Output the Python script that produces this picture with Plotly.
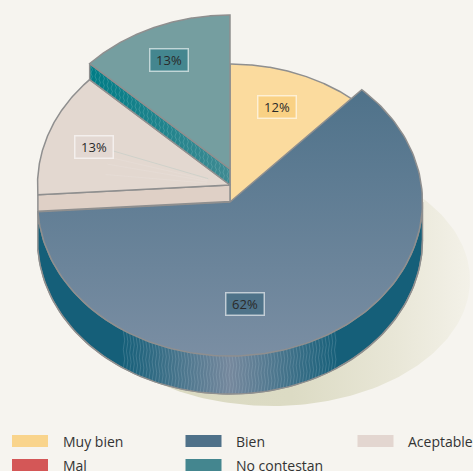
import numpy as np
import plotly.graph_objects as go

categories = ["Muy bien", "Bien", "Aceptable", "Mal", "No contestan"]
values = [12, 62, 13, 0, 13]
legend_colors = ["#F9D48C", "#4F7189", "#E3D6D0", "#D45757", "#44868F"]

# Layout constants of the drawing (pixels of the 473x471 page)
W, H = 473, 471
CX, RX, RY = 230.0, 192.5, 154.0
BG = "#F6F4EF"
EDGE = "#8F8F8F"
CY = {"Muy bien": 218, "Bien": 202, "Aceptable": 185, "No contestan": 169}
DEPTH = {"Bien": 38, "Aceptable": 16.5, "No contestan": 16}
LABEL_XY = {"Muy bien": (277, 106.5), "Bien": (245, 303.5),
            "Aceptable": (93.5, 146.5), "No contestan": (169, 59.5)}
LABEL_FILL = {"Muy bien": "#F9D184", "Bien": "#4F7389",
              "Aceptable": "#E3D8D2", "No contestan": "#44868F"}
LEG_X = [12, 185.5, 357.5]
LEG_Y = [441, 465]

edges = np.cumsum([0] + values) * 3.6
span = {c: (edges[i], edges[i + 1]) for i, c in enumerate(categories)}


def rim(cat, a0, a1, dy=0, n=160):
    t = np.radians(np.linspace(a0, a1, n))
    return CX + RX * np.sin(t), CY[cat] - RY * np.cos(t) + dy


def apex(cat):
    return CX, CY[cat]


fig = go.Figure()


def poly(xs, ys, fill=None, grad=None, line=EDGE, lw=1.5):
    kw = dict(fillgradient=grad) if grad else dict(fillcolor=fill)
    fig.add_trace(go.Scatter(
        x=list(xs), y=list(ys), mode="lines", fill="toself",
        line=dict(color=line if line else "rgba(0,0,0,0)", width=lw if line else 0),
        hoverinfo="skip", showlegend=False, **kw))


def wedge(cat, **kw):
    a0, a1 = span[cat]
    x, y = rim(cat, a0, a1)
    ax, ay = apex(cat)
    poly(np.r_[ax, x, ax], np.r_[ay, y, ay], **kw)


def zigzag(xs, top, bottom, color, width=0.7):
    px, py = [], []
    for x, t, b in zip(xs, top, bottom):
        steps = np.linspace(t, b, 5)
        for j, s in enumerate(steps):
            px.append(x + (0.7 if j % 2 else -0.7))
            py.append(s)
        px.append(None)
        py.append(None)
    fig.add_trace(go.Scatter(x=px, y=py, mode="lines",
                             line=dict(color=color, width=width),
                             hoverinfo="skip", showlegend=False))


# Cast shadow
t = np.radians(np.linspace(0, 360, 240))
poly(272 + 198 * np.sin(t), 280 - 126 * np.cos(t),
     grad=dict(type="horizontal",
               colorscale=[[0, "#DAD9C0"], [0.55, "#DCDBC4"], [0.8, "#E8E6D6"], [1, "#F3F1E8"]]),
     line=None)

# Muy bien
wedge("Muy bien", fill="#FBDB9E")

# Bien: wall, highlighted part of the wall, top
a0, a1 = span["Bien"]
d = DEPTH["Bien"]
x, y = rim("Bien", 90, a1)
xb, yb = rim("Bien", 90, a1, d)
poly(np.r_[x, xb[::-1], x[0]], np.r_[y, yb[::-1], y[0]], fill="#155F79")
x, y = rim("Bien", 146, 214)
xb, yb = rim("Bien", 146, 214, d)
poly(np.r_[x, xb[::-1], x[0]], np.r_[y, yb[::-1], y[0]],
     grad=dict(type="horizontal",
               colorscale=[[0, "#155F79"], [0.5, "#76889D"], [1, "#155F79"]]),
     line=None)
hx = np.arange(124, 338, 3.2)
ht = np.interp(hx, x[::-1], y[::-1])
zigzag(hx, ht, ht + d, "rgba(190,215,225,0.28)")
x, y = rim("Bien", 90, a1)
xb, yb = rim("Bien", 90, a1, d)
fig.add_trace(go.Scatter(x=xb, y=yb, mode="lines", line=dict(color=EDGE, width=1.2),
                         hoverinfo="skip", showlegend=False))
wedge("Bien", grad=dict(type="vertical", colorscale=[[0, "#7A8EA3"], [1, "#4F728A"]]))

# Aceptable: wall, top
a0, a1 = span["Aceptable"]
d = DEPTH["Aceptable"]
rx0, ry0 = rim("Aceptable", a0, a0, n=1)
ax, ay = apex("Aceptable")
poly([rx0[0], ax, ax, rx0[0], rx0[0]], [ry0[0], ay, ay + d, ry0[0] + d, ry0[0]], fill="#DFD0C6")
wedge("Aceptable", fill="#E3D8D0")
for ang, col in [(276, "rgba(238,230,224,0.45)"), (282, "rgba(238,230,224,0.45)"),
                 (286, "rgba(238,230,224,0.45)"), (290, "rgba(170,195,190,0.6)")]:
    rx1, ry1 = rim("Aceptable", ang, ang, n=1)
    fig.add_trace(go.Scatter(
        x=[rx1[0] + 0.35 * (ax - rx1[0]), ax - 0.12 * (ax - rx1[0])],
        y=[ry1[0] + 0.35 * (ay - ry1[0]), ay - 0.12 * (ay - ry1[0])],
        mode="lines", line=dict(color=col, width=0.6), hoverinfo="skip", showlegend=False))

# No contestan: wall, top
a0, a1 = span["No contestan"]
d = DEPTH["No contestan"]
rx0, ry0 = rim("No contestan", a0, a0, n=1)
ax, ay = apex("No contestan")
poly([rx0[0], ax, ax, rx0[0], rx0[0]], [ry0[0], ay, ay + d, ry0[0] + d, ry0[0]],
     grad=dict(type="horizontal", colorscale=[[0, "#007C86"], [1, "#3F8A92"]]))
hx = np.arange(rx0[0] + 2, ax - 1, 4.0)
ht = np.interp(hx, [rx0[0], ax], [ry0[0], ay])
zigzag(hx, ht + 1, ht + d - 1, "rgba(190,225,225,0.3)")
wedge("No contestan", fill="#759EA0")

# Value labels
annotations = []
for cat, v in zip(categories, values):
    if v == 0:
        continue
    lx, ly = LABEL_XY[cat]
    annotations.append(dict(
        x=lx, y=ly, xref="x", yref="y", text=f"{v}%", showarrow=False,
        font=dict(family="Open Sans", size=13, color="#2A2A2A"),
        bgcolor=LABEL_FILL[cat], bordercolor="rgba(255,255,255,0.6)", borderwidth=1.5,
        width=37, height=21, borderpad=0, align="center", valign="middle"))

# Legend
shapes = []
for i, (cat, col) in enumerate(zip(categories, legend_colors)):
    lx = LEG_X[i % 3]
    ly = LEG_Y[i // 3]
    shapes.append(dict(type="rect", xref="x", yref="y", x0=lx, x1=lx + 36,
                       y0=ly - 6, y1=ly + 6, fillcolor=col, line=dict(width=0)))
    annotations.append(dict(
        x=lx + 48.5, y=ly, xref="x", yref="y", text=cat, showarrow=False,
        xanchor="left", yanchor="middle",
        font=dict(family="Open Sans", size=14, color="#333333")))

fig.update_layout(
    width=W, height=H, margin=dict(l=0, r=0, t=0, b=0),
    paper_bgcolor=BG, plot_bgcolor=BG, showlegend=False,
    xaxis=dict(range=[0, W], visible=False, fixedrange=True),
    yaxis=dict(range=[H, 0], visible=False, fixedrange=True),
    shapes=shapes, annotations=annotations,
)
fig.write_html("out.html", config={"displayModeBar": False},
               post_script="document.body.style.margin='0';document.body.style.overflow='hidden';"
                           "document.body.style.background='" + BG + "';")
